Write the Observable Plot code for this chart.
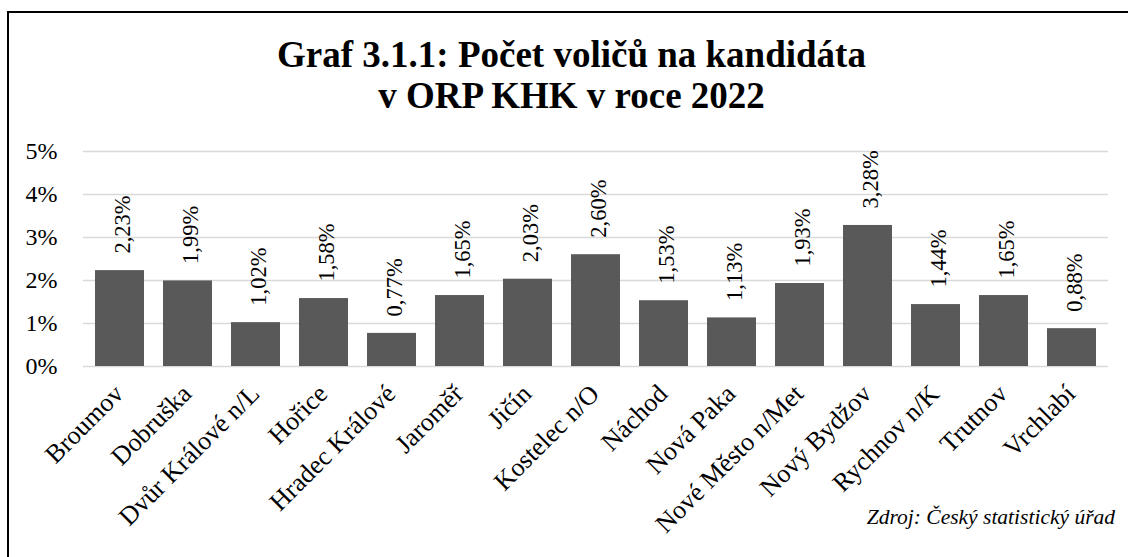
<!DOCTYPE html>
<html><head><meta charset="utf-8">
<script src="https://cdn.jsdelivr.net/npm/d3@7"></script>
<script src="https://cdn.jsdelivr.net/npm/@observablehq/plot@0.6"></script>
<style>
body{margin:0;background:#fff;}
#wrap{position:relative;width:1128px;height:557px;overflow:hidden;background:#fff;font-family:'Liberation Serif';color:#000;}
#chart{position:absolute;left:0;top:0;}
#frame{position:absolute;left:7px;top:11px;width:1200px;height:700px;border-left:2px solid #000;border-top:2px solid #000;}
#title{position:absolute;left:0;top:34px;width:1143px;text-align:center;font-family:'Liberation Serif';font-weight:bold;font-size:37px;line-height:41px;}
#caption{position:absolute;right:13px;top:505px;font-family:'Liberation Serif';font-style:italic;font-size:21.5px;line-height:24px;white-space:nowrap;}
</style>
</head><body>
<div id="wrap">
  <div id="chart"></div>
  <div id="frame"></div>
  <div id="title">Graf 3.1.1: Počet voličů na kandidáta<br>v ORP KHK v roce 2022</div>
  <div id="caption">Zdroj: Český statistický úřad</div>
</div>
<script>
const towns = ["Broumov","Dobruška","Dvůr Králové n/L","Hořice","Hradec Králové","Jaroměř","Jičín","Kostelec n/O","Náchod","Nová Paka","Nové Město n/Met","Nový Bydžov","Rychnov n/K","Trutnov","Vrchlabí"];
const values = [2.23,1.99,1.02,1.58,0.77,1.65,2.03,2.60,1.53,1.13,1.93,3.28,1.44,1.65,0.88];
const yTicks = [0,1,2,3,4,5];

const data = towns.map((t,i)=>({town:t, value:values[i]}));
const fmt = v => v.toFixed(2).replace(".", ",") + "%";
const FF = "Liberation Serif";

const chart = Plot.plot({
  width:1128, height:557,
  marginLeft:83, marginRight:20, marginTop:151, marginBottom:191,
  style:{fontFamily:FF, fontSize:"24px", color:"#000", background:"transparent"},
  x:{domain:towns, paddingInner:0.28, paddingOuter:0.14, label:null, axis:null},
  y:{domain:[0,5], label:null, axis:null},
  marks:[
    Plot.gridY(yTicks, {stroke:"#d9d9d9", strokeOpacity:1, strokeWidth:1.5}),
    Plot.barY(data, {x:"town", y:"value", fill:"#595959"}),
    Plot.text(data, {x:"town", y:"value", text:d=>fmt(d.value), rotate:-90, textAnchor:"start", dy:-17, dx:3, fontSize:22.5, fontFamily:FF, fill:"#000"}),
    Plot.axisY(yTicks, {tickSize:0, tickPadding:26, tickFormat:d=>d+"%", fontSize:24, fontFamily:FF, fill:"#000"}),
    Plot.axisX(towns, {tickSize:0, tickRotate:-45, tickPadding:23, dx:-1, fontSize:26, fontFamily:FF, fill:"#000", label:null})
  ]
});
document.getElementById("chart").appendChild(chart);
</script>
</body></html>
